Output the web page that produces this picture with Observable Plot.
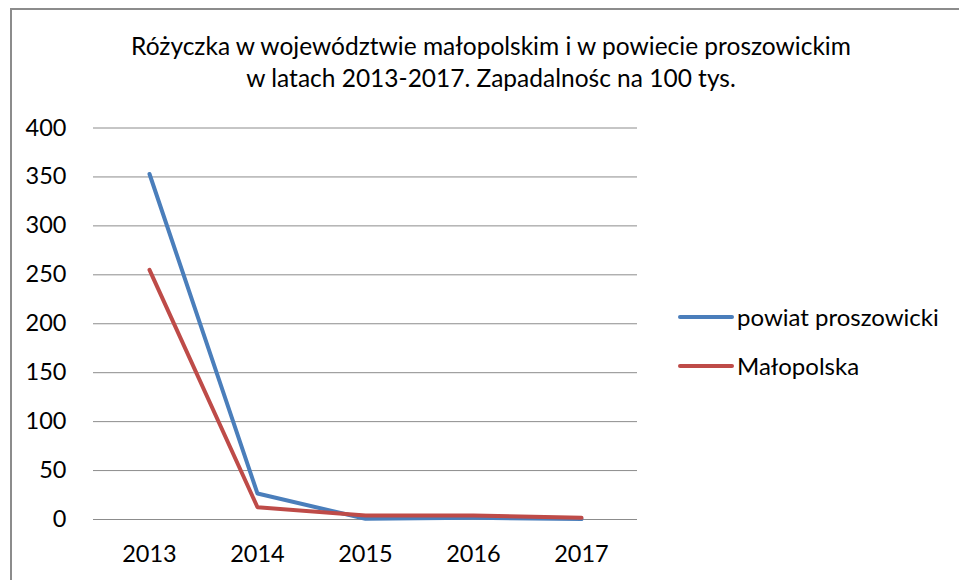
<!DOCTYPE html>
<html>
<head>
<meta charset="utf-8">
<script src="https://cdn.jsdelivr.net/npm/d3@7"></script>
<script src="https://cdn.jsdelivr.net/npm/@observablehq/plot@0.6"></script>
<style>
  html, body { margin: 0; padding: 0; background: #fff; }
  #wrap { position: relative; width: 959px; height: 580px; overflow: hidden; font-family: Lato, "Noto Sans", sans-serif; color: #000; }
  #frame { position: absolute; left: 10px; top: 8px; width: 1000px; height: 1000px; border: 2px solid #8c8c8c; box-sizing: border-box; }
  #title { position: absolute; left: 0; width: 982px; top: 30px; text-align: center; font-size: 24.5px; line-height: 32px; }
  #chart { position: absolute; left: 0; top: 0; }
  .leg { position: absolute; left: 678px; font-size: 24px; display: flex; align-items: center; }
  .leg span.sw { display: inline-block; width: 56px; height: 4px; border-radius: 2px; margin-right: 3px; }
</style>
</head>
<body>
<div id="wrap">
  <div id="frame"></div>
  <div id="chart"></div>
  <div id="title">Różyczka w województwie małopolskim i w powiecie proszowickim<br>w latach 2013-2017. Zapadalnośc na 100 tys.</div>
  <div id="legend"></div>
</div>
<script>
const years = ["2013", "2014", "2015", "2016", "2017"];
const seriesNames = ["powiat proszowicki", "Małopolska"];
const powiat = [353, 26.5, 0.7, 1.7, 0.4];
const malopolska = [255, 12.5, 4, 4, 1.7];
const colors = ["#4a7ebb", "#be4b48"];
const yTicks = [0, 50, 100, 150, 200, 250, 300, 350, 400];

const data = [];
years.forEach((y, i) => {
  data.push({ year: y, series: seriesNames[0], value: powiat[i] });
  data.push({ year: y, series: seriesNames[1], value: malopolska[i] });
});

const chart = Plot.plot({
  width: 959,
  height: 580,
  marginLeft: 93,
  marginRight: 322,
  marginTop: 127.5,
  marginBottom: 61,
  style: { fontFamily: "Lato, 'Noto Sans', sans-serif", fontSize: "23.5px", color: "#000", background: "transparent" },
  x: { type: "point", domain: years, padding: 0.5, label: null },
  y: { domain: [0, 400], label: null },
  color: { domain: seriesNames, range: colors },
  marks: [
    Plot.gridY(yTicks, { stroke: "#8c8c8c", strokeOpacity: 1, strokeWidth: 1 }),
    Plot.ruleX([0], { frameAnchor: "left", stroke: "#8c8c8c" }),
    Plot.axisY({ ticks: yTicks, tickSize: 0, tickPadding: 27, fontSize: 23.5, label: null }),
    Plot.axisX({ tickSize: 0, tickPadding: 26, fontSize: 23.5, label: null }),
    Plot.line(data, { x: "year", y: "value", z: "series", stroke: "series", strokeWidth: 4, strokeLinejoin: "round" })
  ]
});
document.getElementById("chart").appendChild(chart);

const legend = document.getElementById("legend");
const legTops = [302, 351];
seriesNames.forEach((name, i) => {
  const d = document.createElement("div");
  d.className = "leg";
  d.style.top = legTops[i] + "px";
  d.innerHTML = `<span class="sw" style="background:${colors[i]}"></span><span>${name}</span>`;
  legend.appendChild(d);
});
</script>
</body>
</html>
